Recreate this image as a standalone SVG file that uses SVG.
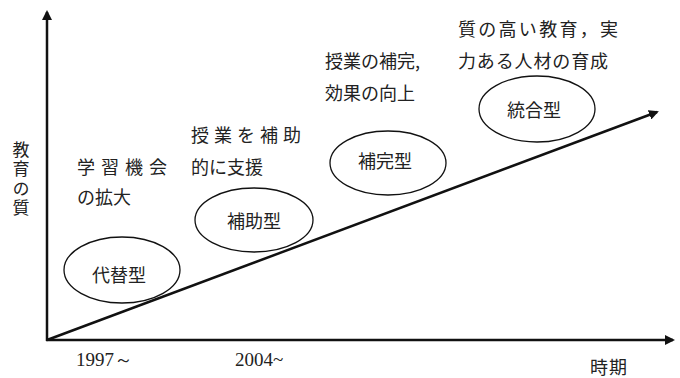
<svg xmlns="http://www.w3.org/2000/svg" width="680" height="378" viewBox="0 0 680 378">
<style>
.ax{stroke:#111;stroke-width:2.5;fill:none}
.el{stroke:#111;stroke-width:1.3;fill:none}
.t{font-family:"Noto Sans CJK JP","Noto Sans CJK SC",sans-serif;font-size:18px;fill:#222}
.v{font-family:"Noto Sans CJK JP","Noto Sans CJK SC",sans-serif;font-size:17px;fill:#222;writing-mode:vertical-rl;letter-spacing:2.5px}
.n{font-family:"Liberation Serif",serif;font-size:19px;fill:#222}
</style>
<defs>
<marker id="ah" markerWidth="10" markerHeight="10" refX="8" refY="5" orient="auto" markerUnits="userSpaceOnUse" viewBox="0 0 10 10">
<path d="M0,0 L10,5 L0,10 Z" fill="#111"/>
</marker>
</defs>
<g id="connectors">
<line class="ax" x1="47" y1="341" x2="47" y2="12" marker-end="url(#ah)"/>
<line class="ax" x1="46" y1="340" x2="673" y2="340" marker-end="url(#ah)"/>
<line class="ax" x1="47" y1="340" x2="657" y2="112" marker-end="url(#ah)"/>
</g>
<g id="axis-y-label">
<text class="v" x="21" y="141">教育の質</text>
</g>
<g id="axis-x-label"><text class="t" x="590" y="374" textLength="37">時期</text></g>
<g id="year-1997"><text class="n" x="76" y="366">1997～</text></g>
<g id="year-2004"><text class="n" x="235" y="366">2004~</text></g>
<g id="node-daitai">
<ellipse class="el" cx="122" cy="270" rx="58" ry="33"/>
<text class="t" x="119" y="282" text-anchor="middle">代替型</text>
</g>
<g id="node-hojo">
<ellipse class="el" cx="254" cy="220" rx="59" ry="32"/>
<text class="t" x="254" y="228" text-anchor="middle">補助型</text>
</g>
<g id="node-hokan">
<ellipse class="el" cx="388" cy="163" rx="58" ry="32"/>
<text class="t" x="385" y="168" text-anchor="middle">補完型</text>
</g>
<g id="node-togo">
<ellipse class="el" cx="537" cy="109" rx="58" ry="33"/>
<text class="t" x="534" y="117" text-anchor="middle">統合型</text>
</g>
<g id="note-1">
<text class="t" x="77" y="174" textLength="90" lengthAdjust="spacing">学習機会</text>
<text class="t" x="77" y="204">の拡大</text>
</g>
<g id="note-2">
<text class="t" x="191" y="142" textLength="110" lengthAdjust="spacing">授業を補助</text>
<text class="t" x="191" y="174">的に支援</text>
</g>
<g id="note-3">
<text class="t" x="325" y="68">授業の補完,</text>
<text class="t" x="325" y="100">効果の向上</text>
</g>
<g id="note-4">
<text class="t" x="458" y="36" textLength="160" lengthAdjust="spacing">質の高い教育，実</text>
<text class="t" x="458" y="68" textLength="150" lengthAdjust="spacing">力ある人材の育成</text>
</g>
</svg>
